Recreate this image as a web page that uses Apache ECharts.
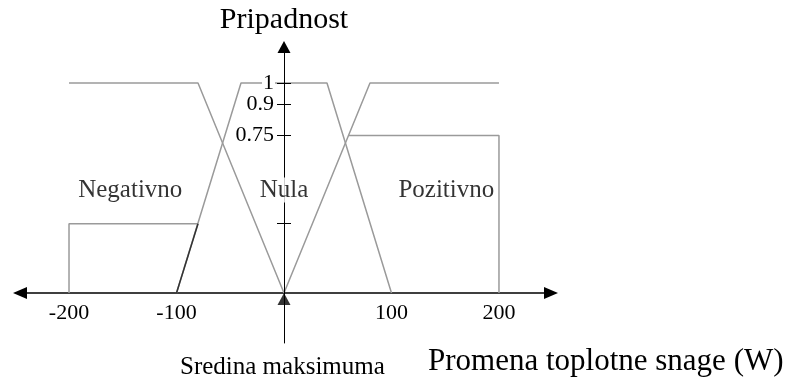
<!DOCTYPE html>
<html>
<head>
<meta charset="utf-8">
<script src="https://cdn.jsdelivr.net/npm/echarts@6/dist/echarts.min.js"></script>
<style>
  html, body { margin: 0; padding: 0; background: #fff; }
  #main { width: 790px; height: 387px; }
</style>
</head>
<body>
<div id="main"></div>
<script>
// skupovi pripadnosti (x u W, y pripadnost)
var negativno = [[-200, 1], [-80, 1], [0, 0]];
var nula = [[-100, 0], [-40, 1], [40, 1], [100, 0]];
var pozitivno = [[0, 0], [80, 1], [200, 1]];
// odsecene oblasti
var negOdsecen = [[-200, 0], [-200, 0.33], [-80, 0.33]];
var nulaOdsecen = [[-100, 0], [-80, 0.33]];
var pozOdsecen = [[60, 0.75], [200, 0.75], [200, 0]];
// oznake osa
var xTicks = [-200, -100, 100, 200];
var yLabelsA = [0.75, 0.9];
var yLabelsB = [1];
var yTicks = [0.33, 0.75, 0.9, 1];
var skupovi = ['Negativno', 'Nula', 'Pozitivno'];
var sredina = [[0, 0]];

var font = 'Liberation Serif';
var siva = '#9a9a9a';

var dom = document.getElementById('main');
var myChart = echarts.init(dom);

function linija(data, color) {
    return {
        type: 'line',
        data: data,
        showSymbol: false,
        symbol: 'none',
        lineStyle: {color: color || siva, width: 1.5},
        animation: false,
        z: 2
    };
}

// osa x lezi na y=0, osa y na x=0 (pomeranje u pikselima od ivice grida)
var xOffset = -50;
var yOffset = -264;

var yLabelStyle = {
    hideOverlap: false,
    margin: 9,
    color: '#000',
    fontFamily: font,
    fontSize: 22,
    lineHeight: 16,
    backgroundColor: '#fff',
    padding: [0, 1]
};

var option = {
    animation: false,
    grid: {left: 20, right: 239, top: 47, bottom: 44, containLabel: false, outerBoundsMode: 'none'},
    xAxis: {
        type: 'value',
        position: 'bottom',
        offset: xOffset,
        min: -245.6,
        max: 248.4,
        splitLine: {show: false},
        axisLine: {
            onZero: false,
            symbol: ['triangle', 'triangle'],
            symbolSize: [12, 14],
            lineStyle: {color: '#000', width: 1.5}
        },
        axisTick: {show: false},
        axisLabel: {
            customValues: xTicks,
            margin: 9,
            color: '#000',
            fontFamily: font,
            fontSize: 22
        }
    },
    yAxis: [{
        type: 'value',
        position: 'left',
        offset: yOffset,
        min: -0.238,
        max: 1.171,
        z: 5,
        name: 'Pripadnost',
        nameLocation: 'end',
        nameGap: 12,
        nameTextStyle: {color: '#000', fontFamily: font, fontSize: 30},
        splitLine: {show: false},
        axisLine: {
            onZero: false,
            symbol: ['none', 'triangle'],
            symbolSize: [13, 12],
            lineStyle: {color: '#000', width: 1}
        },
        axisTick: {
            customValues: yTicks,
            length: 7,
            lineStyle: {color: '#000', width: 1}
        },
        axisLabel: Object.assign({customValues: yLabelsA}, yLabelStyle)
    }, {
        type: 'value',
        position: 'left',
        offset: yOffset,
        min: -0.238,
        max: 1.171,
        z: 5,
        splitLine: {show: false},
        axisLine: {show: false, onZero: false},
        axisTick: {
            customValues: yTicks,
            inside: true,
            length: 7,
            lineStyle: {color: '#000', width: 1}
        },
        axisLabel: Object.assign({customValues: yLabelsB}, yLabelStyle)
    }],
    series: [
        linija(negativno),
        linija(nula),
        linija(pozitivno),
        linija(negOdsecen),
        linija(pozOdsecen),
        linija(nulaOdsecen, '#333'),
        {
            type: 'scatter',
            z: 10,
            symbolSize: 0,
            data: [[-143, 0.49], [0, 0.49], [151, 0.49]].map(function (p, i) {
                return {
                    value: p,
                    name: skupovi[i],
                    label: i === 1 ? {backgroundColor: '#fff', padding: [0, 2]} : {}
                };
            }),
            label: {
                show: true,
                position: 'inside',
                formatter: '{b}',
                color: '#000',
                fontFamily: font,
                fontSize: 25
            },
            silent: true
        },
        {
            type: 'scatter',
            z: 10,
            data: sredina,
            symbol: 'triangle',
            symbolSize: [13, 12],
            symbolOffset: [0, 6],
            itemStyle: {color: '#000'},
            silent: true
        }
    ],
    graphic: [{
        type: 'text',
        left: 180,
        top: 355,
        style: {text: 'Sredina maksimuma', fill: '#000', font: '25px "Liberation Serif"'}
    }, {
        type: 'text',
        left: 428,
        top: 346,
        style: {text: 'Promena toplotne snage (W)', fill: '#000', font: '31px "Liberation Serif"'}
    }]
};

myChart.setOption(option);
</script>
</body>
</html>
